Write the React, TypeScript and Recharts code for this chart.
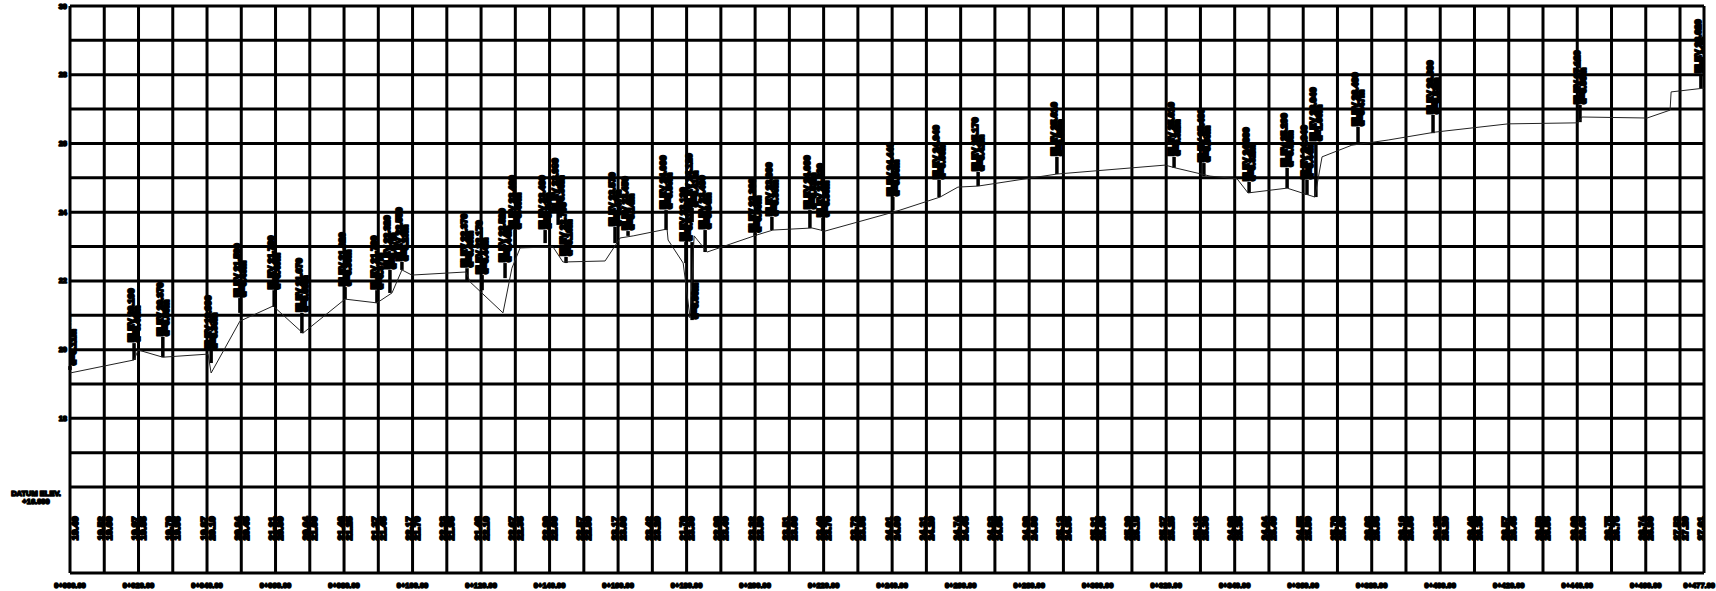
import React from 'react';
import { ComposedChart, XAxis, YAxis, Line, Scatter, ReferenceLine } from 'recharts';

const W = 1716;
const H = 591;

// Long-section ground line: chainage (m) and level (m)
const profileStations = [0, 18.7, 19.9, 27.1, 40.3, 41.2, 49.6, 59.3, 68.0, 80.3, 89.6, 94.0, 96.9, 99.8, 115.6, 116.8, 126.4, 129.0, 131.4, 141.0, 143.9, 156.2, 160.6, 164.4, 174.3, 174.6, 179.0, 181.0, 182.2, 186.0, 192.7, 200.6, 205.2, 216.6, 220.4, 238.5, 242.3, 254.0, 259.2, 265.1, 288.1, 319.7, 322.6, 332.8, 340.7, 343.9, 355.3, 363.4, 365.5, 374.2, 384.8, 398.5, 419.8, 440.2, 441.4, 460.4, 467.1, 467.4, 477];
const profileLevels = [19.32, 19.70, 19.99, 19.78, 19.87, 19.32, 20.83, 21.27, 20.48, 21.47, 21.36, 21.65, 22.32, 22.17, 22.26, 21.97, 21.07, 22.37, 22.96, 22.99, 22.55, 22.58, 23.25, 23.31, 23.51, 23.19, 22.52, 20.92, 23.31, 22.84, 23.07, 23.34, 23.48, 23.54, 23.45, 23.95, 24.06, 24.44, 24.73, 24.76, 25.11, 25.37, 25.29, 25.05, 24.97, 24.56, 24.70, 24.44, 25.61, 25.95, 26.10, 26.33, 26.57, 26.60, 26.77, 26.74, 26.97, 27.50, 27.61];

// Level callouts: chainage, level at foot of leader, level where the text starts
const calloutStations = [0, 18.7, 27.1, 41.2, 49.6, 59.6, 67.7, 80.3, 89.6, 93.4, 96.9, 115.9, 120.3, 127.0, 129.9, 138.7, 142.5, 144.8, 159.1, 162.9, 174.0, 179.8, 181.6, 185.4, 181.6, 200.0, 204.9, 216.0, 219.8, 240.2, 253.7, 265.1, 288.1, 322.3, 331.0, 344.2, 355.3, 361.1, 363.7, 376.0, 397.9, 440.8, 476.1];
const calloutBase = [19.41, 19.70, 19.78, 19.61, 21.07, 21.24, 20.48, 21.47, 21.36, 21.65, 22.32, 21.97, 21.73, 22.08, 22.99, 23.10, 23.63, 22.52, 23.10, 23.31, 23.48, 22.52, 23.71, 22.84, 20.86, 23.31, 23.48, 23.54, 23.45, 24.06, 24.44, 24.76, 25.11, 25.29, 25.05, 24.56, 24.70, 24.50, 24.44, 26.01, 26.30, 26.62, 27.61];
const calloutTop = [19.52, 20.19, 20.37, 19.99, 21.50, 21.73, 21.07, 21.82, 21.73, 22.32, 22.55, 22.37, 22.17, 22.52, 23.48, 23.48, 23.98, 22.70, 23.57, 23.45, 24.06, 23.13, 24.12, 23.48, 20.86, 23.39, 23.86, 24.06, 23.83, 24.44, 24.94, 25.17, 25.61, 25.61, 25.43, 24.88, 25.29, 24.94, 26.04, 26.48, 26.83, 27.12, 28.02];
const leaderOnlyStations = [181.6];
const leaderOnlyFrom = [20.86];
const leaderOnlyTo = [23.13];

// Band table below datum: chainage every 10 m, ground and design levels
const bandStations = [0, 10, 20, 30, 40, 50, 60, 70, 80, 90, 100, 110, 120, 130, 140, 150, 160, 170, 180, 190, 200, 210, 220, 230, 240, 250, 260, 270, 280, 290, 300, 310, 320, 330, 340, 350, 360, 370, 380, 390, 400, 410, 420, 430, 440, 450, 460, 470, 477];
const bandGround = [19.32, 19.52, 19.97, 19.79, 19.87, 20.84, 21.21, 20.64, 21.46, 21.37, 22.17, 22.23, 21.48, 22.67, 22.99, 22.57, 23.17, 23.42, 21.70, 22.98, 23.32, 23.51, 23.46, 23.72, 24.01, 24.31, 24.74, 24.83, 24.98, 25.13, 25.21, 25.29, 25.37, 25.12, 24.98, 24.64, 24.55, 25.79, 26.03, 26.19, 26.35, 26.46, 26.57, 26.58, 26.60, 26.75, 26.74, 27.53, 27.61];
const bandDesign = [19.40, 19.60, 19.85, 19.95, 20.10, 20.45, 20.80, 21.00, 21.25, 21.45, 21.70, 21.95, 22.10, 22.35, 22.60, 22.80, 23.00, 23.20, 23.30, 23.40, 23.50, 23.60, 23.70, 23.85, 24.00, 24.20, 24.45, 24.65, 24.80, 24.95, 25.05, 25.15, 25.25, 25.30, 25.35, 25.40, 25.50, 25.65, 25.85, 26.05, 26.20, 26.35, 26.45, 26.55, 26.65, 26.75, 26.90, 27.20, 27.40];

// Axis ticks and grid
const stationTicks = [0, 20, 40, 60, 80, 100, 120, 140, 160, 180, 200, 220, 240, 260, 280, 300, 320, 340, 360, 380, 400, 420, 440, 460, 477];
const levelTicks = [16, 18, 20, 22, 24, 26, 28, 30];
const gridLevels = [16, 17, 18, 19, 20, 21, 22, 23, 24, 25, 26, 27, 28, 29, 30];
const gridStations = [0, 10, 20, 30, 40, 50, 60, 70, 80, 90, 100, 110, 120, 130, 140, 150, 160, 170, 180, 190, 200, 210, 220, 230, 240, 250, 260, 270, 280, 290, 300, 310, 320, 330, 340, 350, 360, 370, 380, 390, 400, 410, 420, 430, 440, 450, 460, 470, 477];
const DATUM_LEVEL = 16;
const DATUM_TEXT = 'DATUM ELEV.';
const DATUM_VALUE = '+16.000';
const X_DOMAIN: [number, number] = [0, 477];
const Y_DOMAIN: [number, number] = [13.5, 30];
const BAND_LEVEL = 14.8;

const profileData = profileStations.map((s, i) => ({ s, e: profileLevels[i] }));
const calloutData = calloutStations.map((s, i) => ({
  s,
  y: calloutTop[i],
  base: calloutBase[i],
  label: calloutBase[i] === calloutTop[i] ? '' : `ELEV ${calloutTop[i].toFixed(3)}`,
  sub: `d=${Math.abs(calloutTop[i] - calloutBase[i]).toFixed(2)}m`,
}));
const bandData = bandStations.map((s, i) => ({
  s,
  y: BAND_LEVEL,
  a: bandGround[i].toFixed(2),
  b: bandDesign[i].toFixed(2),
}));

const FONT = '"Liberation Sans", Arial, sans-serif';
const mkTxt = (sw: number): React.CSSProperties => ({
  fontFamily: FONT,
  fontWeight: 700,
  fill: '#000',
  stroke: '#000',
  strokeWidth: sw,
  strokeLinejoin: 'round',
  strokeLinecap: 'round',
});
const tickTxt = mkTxt(1.6);
const markTxt = mkTxt(2);

const fmtStation = (v: number) => `0+${String(Math.floor(v)).padStart(3, '0')}.00`;
const LAST_STATION = stationTicks[stationTicks.length - 1];

function XTick(props: any) {
  const { x, y, payload } = props;
  const last = payload.value === LAST_STATION;
  return (
    <text
      x={last ? x + 11 : x}
      y={y + 4}
      textAnchor={last ? 'end' : 'middle'}
      dominantBaseline="central"
      fontSize={7.5}
      style={tickTxt}
    >
      {fmtStation(payload.value)}
    </text>
  );
}

function YTick(props: any) {
  const { x, y, payload } = props;
  if (payload.value === DATUM_LEVEL) {
    return (
      <g>
        <text x={x - 31} y={y + 6.5} textAnchor="middle" dominantBaseline="central" fontSize={7.5} style={tickTxt}>
          {DATUM_TEXT}
        </text>
        <text x={x - 31} y={y + 14} textAnchor="middle" dominantBaseline="central" fontSize={7.5} style={tickTxt}>
          {DATUM_VALUE}
        </text>
      </g>
    );
  }
  return (
    <text x={x} y={y} textAnchor="end" dominantBaseline="central" fontSize={7.5} style={tickTxt}>
      {payload.value}
    </text>
  );
}

function CalloutShape(props: any) {
  const { cx, cy, payload } = props;
  if (cx == null || cy == null) return <g />;
  return (
    <g>
      {payload.label ? (
        <text transform={`translate(${cx - 3},${cy - 1}) rotate(-90)`} textAnchor="start" dominantBaseline="central" fontSize={9} style={markTxt}>
          {payload.label}
        </text>
      ) : null}
      <text transform={`translate(${cx + 3},${cy - 1}) rotate(-90)`} textAnchor="start" dominantBaseline="central" fontSize={9} style={markTxt}>
        {payload.sub}
      </text>
    </g>
  );
}

function BandShape(props: any) {
  const { cx, cy, payload } = props;
  if (cx == null || cy == null) return <g />;
  return (
    <g>
      <text transform={`translate(${cx - 4},${cy}) rotate(-90)`} textAnchor="middle" dominantBaseline="central" fontSize={9.5} style={markTxt}>
        {payload.a}
      </text>
      <text transform={`translate(${cx + 4},${cy}) rotate(-90)`} textAnchor="middle" dominantBaseline="central" fontSize={9.5} style={markTxt}>
        {payload.b}
      </text>
    </g>
  );
}

export default function App() {
  return (
    <div style={{ width: W, height: H, background: '#fff' }}>
      <style>{'body{margin:0;background:#fff}'}</style>
      <ComposedChart width={W} height={H} margin={{ top: 6, right: 12, bottom: 0, left: 0 }}>
        <XAxis
          type="number"
          dataKey="s"
          domain={X_DOMAIN}
          allowDataOverflow
          ticks={stationTicks}
          interval={0}
          height={18}
          tickSize={0}
          tickMargin={8}
          tick={<XTick />}
          axisLine={{ stroke: '#000', strokeWidth: 3 }}
        />
        <YAxis
          type="number"
          domain={Y_DOMAIN}
          allowDataOverflow
          ticks={levelTicks}
          interval={0}
          width={70}
          tickSize={0}
          tickMargin={3}
          tick={<YTick />}
          axisLine={false}
        />
        {gridLevels.map((v) => (
          <ReferenceLine key={`h${v}`} y={v} stroke="#000" strokeWidth={3} />
        ))}
        {gridStations.map((v) => (
          <ReferenceLine key={`v${v}`} x={v} stroke="#000" strokeWidth={3} />
        ))}
        {calloutData
          .filter((d) => d.base !== d.y)
          .map((d, i) => (
            <ReferenceLine
              key={`st${i}`}
              segment={[
                { x: d.s, y: d.base },
                { x: d.s, y: d.y },
              ]}
              stroke="#000"
              strokeWidth={3.5}
            />
          ))}
        {leaderOnlyStations.map((s, i) => (
          <ReferenceLine
            key={`lo${i}`}
            segment={[
              { x: s, y: leaderOnlyFrom[i] },
              { x: s, y: leaderOnlyTo[i] },
            ]}
            stroke="#000"
            strokeWidth={3.5}
          />
        ))}
        <Line
          data={profileData}
          dataKey="e"
          type="linear"
          stroke="#222"
          strokeWidth={1}
          dot={false}
          activeDot={false}
          isAnimationActive={false}
        />
        <Scatter data={calloutData} dataKey="y" shape={<CalloutShape />} isAnimationActive={false} />
        <Scatter data={bandData} dataKey="y" shape={<BandShape />} isAnimationActive={false} />
      </ComposedChart>
    </div>
  );
}
